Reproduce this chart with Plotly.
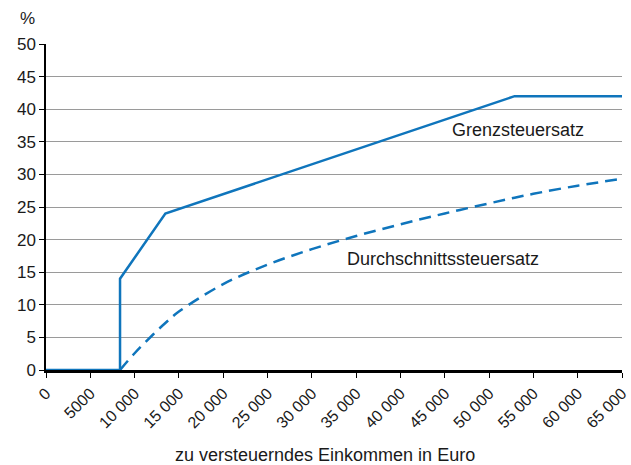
import plotly.graph_objects as go

# Grenzsteuersatz (marginal rate) breakpoints
grenz_x = [0, 8354, 8354, 13469, 52881, 65000]
grenz_y = [0, 0, 14, 24, 42, 42]

# Durchschnittssteuersatz (average rate)
durch_x = [8354, 10000, 12000, 13469, 15000, 20000, 25000, 30000, 35000, 40000,
           45000, 50000, 52881, 55000, 60000, 65000]
durch_y = [0, 2.57, 5.33, 7.21, 8.96, 13.17, 16.16, 18.53, 20.55, 22.35,
           24.01, 25.56, 26.42, 27.02, 28.27, 29.32]

x_ticks = [0, 5000, 10000, 15000, 20000, 25000, 30000, 35000, 40000, 45000,
           50000, 55000, 60000, 65000]
x_labels = ["0", "5000", "10 000", "15 000", "20 000", "25 000", "30 000", "35 000",
            "40 000", "45 000", "50 000", "55 000", "60 000", "65 000"]
y_ticks = [0, 5, 10, 15, 20, 25, 30, 35, 40, 45, 50]

blue = "#0f75bc"
font = "Liberation Sans, Arial, sans-serif"

fig = go.Figure()
fig.add_trace(go.Scatter(x=durch_x, y=durch_y, mode="lines",
                         line=dict(color=blue, width=2.5, dash="12px,7px"),
                         line_shape="spline", cliponaxis=False, hoverinfo="skip"))
fig.add_trace(go.Scatter(x=grenz_x, y=grenz_y, mode="lines",
                         line=dict(color=blue, width=2.5),
                         cliponaxis=False, hoverinfo="skip"))

fig.update_layout(
    width=631, height=465,
    margin=dict(l=46, r=9, t=44, b=95),
    paper_bgcolor="white", plot_bgcolor="white",
    showlegend=False,
    font=dict(family=font, color="#1a1a1a"),
    xaxis=dict(range=[0, 65000], tickmode="array", tickvals=x_ticks, ticktext=x_labels,
               tickangle=-45, tickfont=dict(size=16), showgrid=False,
               showline=True, linecolor="black", linewidth=2.5,
               ticks="outside", ticklen=5, tickcolor="black", tickwidth=1,
               zeroline=False, layer="below traces", automargin=False),
    yaxis=dict(range=[0, 50], tickmode="array", tickvals=y_ticks,
               tickfont=dict(size=17), showgrid=True, gridcolor="#9a9a9a", gridwidth=1,
               showline=True, linecolor="black", linewidth=1.5,
               ticks="outside", ticklen=5, tickcolor="black", tickwidth=1,
               zeroline=False, layer="below traces", automargin=False),
)

fig.add_annotation(x=(27 - 46) / 576, y=(370 - 18) / 326, xref="paper", yref="paper",
                   text="%", showarrow=False,
                   font=dict(size=17), xanchor="center", yanchor="middle")
fig.add_annotation(x=(325 - 46) / 576, y=(370 - 455) / 326, xref="paper", yref="paper",
                   text="zu versteuerndes Einkommen in Euro", showarrow=False,
                   font=dict(size=18), xanchor="center", yanchor="middle")
fig.add_annotation(x=53300, y=36.8, text="Grenzsteuersatz", showarrow=False,
                   font=dict(size=18), xanchor="center", yanchor="middle")
fig.add_annotation(x=44800, y=17.0, text="Durchschnittssteuersatz", showarrow=False,
                   font=dict(size=18), xanchor="center", yanchor="middle")

fig.write_html("out.html", config={"displayModeBar": False},
               post_script="document.body.style.margin='0';")
